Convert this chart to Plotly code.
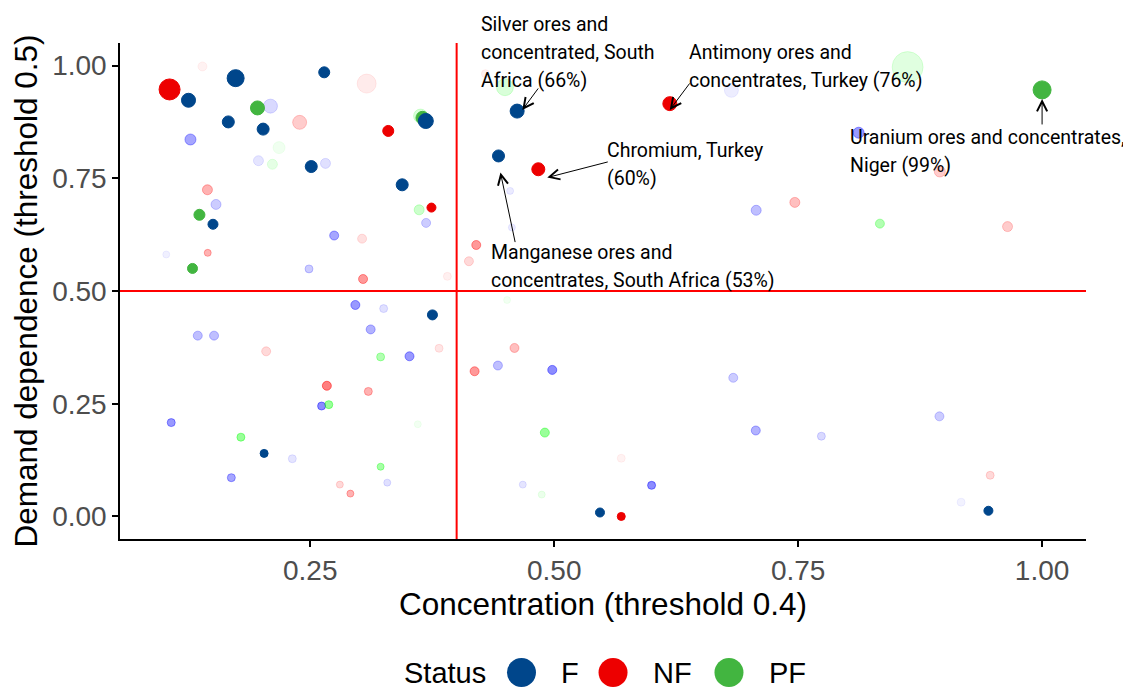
import numpy as np
import plotly.graph_objects as go

# ---------------- data ----------------
status_names = ["F", "NF", "PF"]
status_colors = {"F": "#00468B", "NF": "#ED0000", "PF": "#42B540"}
faded_rgb = {"F": (0, 0, 255), "NF": (255, 0, 0), "PF": (0, 255, 0)}

# F
f_x = [0.1735, 0.2643, 0.1252, 0.2092, 0.166, 0.2017, 0.3684, 0.1272, 0.1969, 0.251,
       0.2656, 0.3442, 0.1534, 0.1503, 0.3687, 0.2745, 0.1024, 0.2487, 0.462, 0.6816,
       0.4429, 0.4548, 0.4566, 0.812, 0.707, 0.4423, 0.498, 0.6835, 0.8948, 0.7066,
       0.7738, 0.4678, 0.5998, 0.5469, 0.917, 0.945, 0.2962, 0.3252, 0.3752, 0.1347,
       0.1514, 0.3119, 0.3517, 0.2616, 0.1075, 0.2027, 0.2316, 0.1691, 0.3289]
f_y = [0.972, 0.985, 0.923, 0.910, 0.875, 0.859, 0.877, 0.836, 0.789, 0.776,
       0.783, 0.7355, 0.692, 0.648, 0.651, 0.623, 0.581, 0.549, 0.899, 0.945,
       0.7995, 0.722, 0.641, 0.851, 0.679, 0.3347, 0.325, 0.3075, 0.222, 0.1906,
       0.178, 0.0706, 0.069, 0.0088, 0.0317, 0.0126, 0.469, 0.461, 0.447, 0.401,
       0.401, 0.4148, 0.3552, 0.2449, 0.2082, 0.1398, 0.128, 0.086, 0.075]
f_size = [18, 12, 15, 15, 13, 13, 16, 12, 11, 13,
          11, 13, 11, 11, 10, 10, 8, 9, 15, 15,
          13, 8, 8, 12, 11, 10, 10, 10, 10, 10,
          9, 8, 9, 10, 9, 10, 10, 9, 11, 10,
          10, 10, 10, 9, 9, 9, 9, 9, 8]
f_alpha = [1, 1, 1, 0.15, 1, 1, 1, 0.35, 0.1, 1,
           0.12, 1, 0.2, 1, 0.2, 0.35, 0.06, 0.2, 1, 0.07,
           1, 0.08, 0.08, 0.4, 0.25, 0.25, 0.45, 0.2, 0.2, 0.3,
           0.15, 0.1, 0.45, 1, 0.05, 1, 0.4, 0.12, 1, 0.25,
           0.25, 0.3, 0.4, 0.45, 0.4, 1, 0.1, 0.35, 0.12]

# NF
nf_x = [0.1395, 0.1058, 0.3078, 0.2391, 0.3299, 0.1446, 0.3742, 0.3031, 0.1449, 0.3041,
        0.3905, 0.4295, 0.6185, 0.4837, 0.8952, 0.7466, 0.9646, 0.4201, 0.4126, 0.4593,
        0.4184, 0.5687, 0.5687, 0.9468, 0.2048, 0.382, 0.267, 0.3095, 0.2803, 0.2911]
nf_y = [0.998, 0.947, 0.960, 0.874, 0.855, 0.7245, 0.685, 0.616, 0.5846, 0.5266,
        0.5325, 0.982, 0.9155, 0.770, 0.765, 0.6965, 0.6428, 0.602, 0.566, 0.3737,
        0.322, 0.129, 0.0, 0.0913, 0.3662, 0.3729, 0.2898, 0.2773, 0.0706, 0.0507]
nf_size = [10, 22, 20, 15, 12, 11, 10, 10, 8, 10,
           9, 9, 15, 14, 12, 11, 11, 10, 10, 10,
           10, 9, 9, 9, 10, 9, 10, 9, 8, 8]
nf_alpha = [0.05, 1, 0.08, 0.2, 1, 0.3, 1, 0.12, 0.3, 0.4,
            0.06, 0.06, 1, 1, 0.2, 0.25, 0.2, 0.4, 0.15, 0.25,
            0.4, 0.05, 1, 0.15, 0.15, 0.1, 0.5, 0.3, 0.15, 0.3]

# PF
pf_x = [0.1959, 0.363, 0.365, 0.218, 0.2112, 0.1364, 0.3616, 0.1293, 0.4495, 0.8622,
        1.0, 0.8338, 0.4517, 0.4904, 0.4872, 0.3221, 0.269, 0.3602, 0.1789, 0.3221]
pf_y = [0.906, 0.888, 0.884, 0.818, 0.781, 0.669, 0.680, 0.550, 0.952, 0.9965,
        0.946, 0.6494, 0.480, 0.186, 0.0485, 0.3538, 0.248, 0.2045, 0.1758, 0.1103]
pf_size = [15, 15, 14, 13, 11, 12, 11, 11, 18, 32,
           19, 10, 8, 10, 8, 9, 9, 8, 9, 8]
pf_alpha = [1, 0.15, 1, 0.06, 0.1, 1, 0.2, 1, 0.15, 0.12,
            1, 0.3, 0.05, 0.4, 0.08, 0.3, 0.4, 0.05, 0.4, 0.35]

# labels
label_texts = ["Silver ores and<br>concentrated, South<br>Africa (66%)",
               "Antimony ores and<br>concentrates, Turkey (76%)",
               "Chromium, Turkey<br>(60%)",
               "Manganese ores and<br>concentrates, South Africa (53%)",
               "Uranium ores and concentrates,<br>Niger (99%)"]
label_x = [0.4225, 0.6358, 0.5521, 0.4327, 0.8011]
label_y = [1.0296, 0.9987, 0.7814, 0.5553, 0.8088]
arrow_x = [0.4673, 0.6184, 0.4929, 0.4449, 1.0]
arrow_y = [0.9015, 0.9015, 0.7516, 0.7626, 0.9259]
arrow_ax = [17, 21, 62, 15, 0]
arrow_ay = [-23, -28, -16, 71, 27]

x_ticks = [0.25, 0.50, 0.75, 1.00]
y_ticks = [0.00, 0.25, 0.50, 0.75, 1.00]
x_threshold = 0.4
y_threshold = 0.5

# ---------------- figure ----------------
series = {
    "F": (f_x, f_y, f_size, f_alpha),
    "NF": (nf_x, nf_y, nf_size, nf_alpha),
    "PF": (pf_x, pf_y, pf_size, pf_alpha),
}

fig = go.Figure()


def add_group(name, opaque):
    x, y, s, a = (np.array(v, dtype=float) for v in series[name])
    mask = (a >= 1) if opaque else (a < 1)
    if not mask.any():
        return
    if opaque:
        cols = [status_colors[name]] * int(mask.sum())
    else:
        r, g, b = faded_rgb[name]
        cols = [f"rgba({r},{g},{b},{al})" for al in a[mask]]
    fig.add_trace(go.Scatter(
        x=x[mask], y=y[mask], mode="markers", name=name, showlegend=False,
        marker=dict(size=s[mask] - 1, color=cols, opacity=1,
                    line=dict(color=cols, width=1)),
        cliponaxis=False,
    ))


for nm in ["NF", "F", "PF"]:
    add_group(nm, False)
for nm in ["PF", "NF", "F"]:
    add_group(nm, True)

# threshold lines
fig.add_shape(type="line", xref="x", yref="paper", x0=x_threshold, x1=x_threshold,
              y0=0, y1=1, line=dict(color="#FF0000", width=2))
fig.add_shape(type="line", xref="paper", yref="y", x0=0, x1=1,
              y0=y_threshold, y1=y_threshold, line=dict(color="#FF0000", width=2))

ann_font = dict(family="Roboto", size=19.5, color="black")
line_gap = 28
for t, lx, ly in zip(label_texts, label_x, label_y):
    lines = t.split("<br>")
    n = len(lines)
    for i, ln in enumerate(lines):
        fig.add_annotation(x=lx, y=ly, xref="x", yref="y", text=ln, showarrow=False,
                           xanchor="left", yanchor="middle", align="left",
                           yshift=-(i - (n - 1) / 2) * line_gap, font=ann_font)
for hx, hy, ax, ay in zip(arrow_x, arrow_y, arrow_ax, arrow_ay):
    fig.add_annotation(x=hx, y=hy, xref="x", yref="y", text="", showarrow=True,
                       ax=ax, ay=ay, arrowhead=5, arrowsize=2, arrowwidth=1,
                       arrowcolor="black")

# manual legend (large keys)
leg_font = dict(family="Liberation Sans, Arial", size=29, color="black")
fig.add_annotation(x=0.2919, y=-0.2702, xref="paper", yref="paper", text="Status",
                   showarrow=False, xanchor="left", yanchor="middle", font=leg_font)
leg_key_x = [0.4156, 0.5104, 0.6304]
leg_text_x = [0.4545, 0.5497, 0.6698]
for nm, kx, tx in zip(status_names, leg_key_x, leg_text_x):
    fig.add_shape(type="circle", xref="paper", yref="paper", xsizemode="pixel",
                  ysizemode="pixel", xanchor=kx, yanchor=-0.2692,
                  x0=-14.5, x1=14.5, y0=-14.5, y1=14.5,
                  fillcolor=status_colors[nm], line=dict(width=0))
    fig.add_annotation(x=tx, y=-0.2702, xref="paper", yref="paper", text=nm,
                       showarrow=False, xanchor="left", yanchor="middle", font=leg_font)

axis_common = dict(showgrid=False, zeroline=False, showline=True, linecolor="black",
                   linewidth=1.5, ticks="outside", ticklen=6, tickcolor="black",
                   tickwidth=1.5,
                   tickfont=dict(family="Liberation Sans, Arial", size=28, color="#4D4D4D"),
                   title_font=dict(family="Liberation Sans, Arial", size=31.5, color="black"))

fig.update_xaxes(range=[0.055, 1.045], tickvals=x_ticks,
                 ticktext=[f"{v:.2f}" for v in x_ticks],
                 title_text="Concentration (threshold 0.4)", title_standoff=0,
                 **axis_common)
fig.update_yaxes(range=[-0.05, 1.05], tickvals=y_ticks,
                 ticktext=[f"{v:.2f}" for v in y_ticks],
                 title_text="Demand dependence (threshold 0.5)", title_standoff=6,
                 **axis_common)

# page body has an 8px margin, so the figure is 8px smaller and shifted accordingly
fig.update_layout(width=1123, height=680, plot_bgcolor="white", paper_bgcolor="white",
                  margin=dict(l=112, r=45, t=35, b=149, autoexpand=False),
                  showlegend=False)

fig.write_html("out.html")
